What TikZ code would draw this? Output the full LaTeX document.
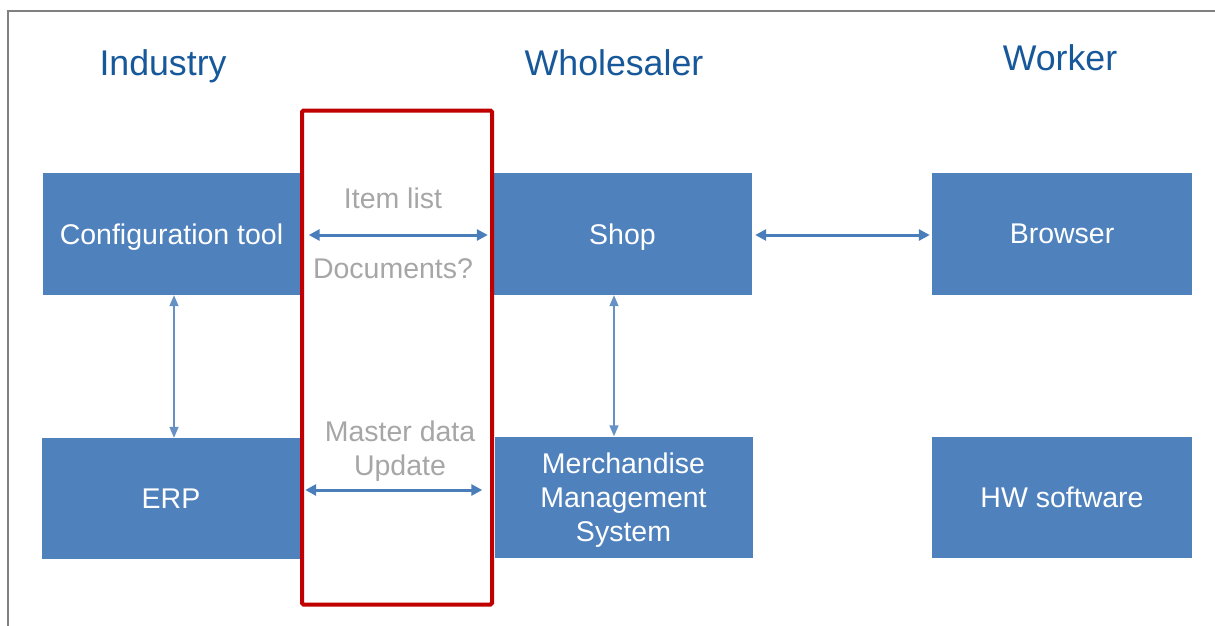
\documentclass[tikz,border=0pt]{standalone}
\usepackage{fontspec}
\setmainfont{Liberation Sans}
\usetikzlibrary{arrows.meta}
\definecolor{boxblue}{RGB}{79,129,189}
\definecolor{arrowblue}{RGB}{74,126,187}
\definecolor{headblue}{RGB}{22,88,154}
\definecolor{labelgray}{RGB}{166,166,166}
\definecolor{framegray}{RGB}{128,128,128}
\definecolor{redframe}{RGB}{192,0,0}
\tikzset{
  sysbox/.style={rectangle, fill=boxblue, text=white, inner sep=0pt, text depth=0pt,
    font=\fontsize{28.5}{34}\selectfont, align=center},
  heading/.style={text=headblue, font=\fontsize{35.7}{40}\selectfont, inner sep=0pt, text depth=0pt},
  flowlabel/.style={text=labelgray, font=\fontsize{28.5}{34}\selectfont, align=center, inner sep=0pt},
  thickarrow/.style={draw=arrowblue, line width=3pt, {Triangle[width=11pt,length=11pt]}-{Triangle[width=11pt,length=11pt]}},
  thinarrow/.style={draw=arrowblue!85, line width=1.5pt, {Triangle[width=9pt,length=11pt]}-{Triangle[width=9pt,length=11pt]}},
}
\begin{document}
\begin{tikzpicture}[x=1pt,y=-1pt]
\useasboundingbox (0,0) rectangle (1215,626);
% frame
\draw[framegray, line width=2pt] (7.5,626) -- (7.5,11) -- (1215,11);

% headings
\node[heading] (industry) at (163,63) {Industry};
\node[heading] (wholesaler) at (614,63) {Wholesaler};
\node[heading] (worker) at (1060,58) {Worker};

% boxes
\node[sysbox, minimum width=258pt, minimum height=122pt] (config) at (171.5,234) {Configuration tool};
\node[sysbox, minimum width=259pt, minimum height=122pt] (shop) at (622.5,234) {Shop};
\node[sysbox, minimum width=260pt, minimum height=122pt] (browser) at (1062,234) {Browser};
\node[sysbox, minimum width=258pt, minimum height=121pt] (erp) at (171,498.5) {ERP};
\node[sysbox, minimum width=258pt, minimum height=121pt] (mms) at (623.5,497) {Merchandise\\Management\\System\hspace*{0pt}};
\node[sysbox, minimum width=260pt, minimum height=121pt] (hw) at (1062,497) {HW software};

% red frame
\node[draw=redframe, line width=4pt, rounded corners=1.5pt, minimum width=190pt, minimum height=494pt, inner sep=0pt] (iface) at (397,357.5) {};

% flow labels
\node[flowlabel] (itemlist) at (393,198) {Item list};
\node[flowlabel] (docs) at (393,269) {Documents?};
\node[flowlabel] (master) at (400,451) {Master data\\Update};

% connectors
\draw[thickarrow, shorten <=8pt, shorten >=5pt] (config.east |- 0,235) -- (shop.west |- 0,235);
\draw[thickarrow, shorten <=3pt, shorten >=2pt] (shop.east |- 0,235) -- (browser.west |- 0,235);
\draw[thickarrow, shorten <=5pt, shorten >=12pt] (erp.east |- 0,490) -- (mms.west |- 0,490);
\draw[thinarrow] ([xshift=2.5pt]config.south) -- ([xshift=3pt]erp.north);
\draw[thinarrow] ([xshift=-8.5pt]shop.south) -- ([xshift=-9.5pt]mms.north);
\end{tikzpicture}
\end{document}
